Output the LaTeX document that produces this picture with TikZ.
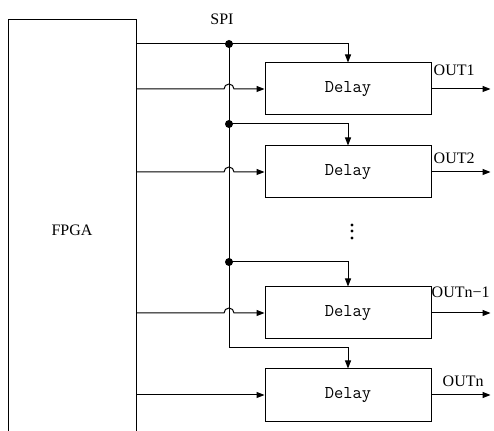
\documentclass[tikz,border=0pt]{standalone}
\usepackage{fontspec}
\setmainfont{Liberation Serif}
\usepackage{tikz}
\usetikzlibrary{arrows.meta,positioning}
\begin{document}
\begin{tikzpicture}[x=1pt, y=1pt, node distance=30pt, every node/.style={font=\fontsize{16}{18}\selectfont}, box/.style={draw, line width=1pt, minimum width=166pt, minimum height=52pt, inner sep=0pt, font=\fontsize{18}{20}\selectfont\ttfamily}, lbl/.style={inner sep=0pt, anchor=base west}, wire/.style={line width=1pt}, arr/.style={-{Triangle[length=8pt, width=6pt]}}]
\useasboundingbox (0,0) rectangle (494,430);
\node[draw, line width=1pt, minimum width=128pt, minimum height=420pt, inner sep=0pt] (fpga) at (72,200) {FPGA};
\node[box] (d1) at (348,341) {Delay};
\node[box, below=30pt of d1] (d2) {Delay};
\node[box, below=88pt of d2] (d3) {Delay};
\node[box, below=29pt of d3] (d4) {Delay};
\coordinate (spi) at (229,386); \coordinate (j2) at (229,306); \coordinate (j3) at (229,168); \coordinate (sb) at (229,82);
\node[anchor=base, inner sep=0pt] (spilbl) at (222,405) {SPI};
\foreach \y in {205,199,192} \fill (352,\y) circle[radius=1.6pt];
\draw[wire] (fpga.east |- spi) -- (spi) -- (sb);
\draw[wire, arr] (spi) -| (d1.north); \draw[wire, arr] (j2) -| (d2.north); \draw[wire, arr] (j3) -| (d3.north); \draw[wire, arr] (sb) -| (d4.north);
\foreach \j in {spi,j2,j3} \fill (\j) circle[radius=4pt];
\foreach \d in {d1,d2,d3} \draw[wire, arr] (fpga.east |- \d.west) -- ([xshift=-5pt]spi |- \d.west) arc[start angle=180, end angle=0, radius=5pt] -- (\d.west);
\draw[wire, arr] (fpga.east |- d4.west) -- (d4.west);
\foreach \d in {d1,d2,d3,d4} {\coordinate (\d out) at ([xshift=59pt]\d.east); \draw[wire, arr] (\d.east) -- (\d out);}
\node[lbl] (out1) at ([xshift=2pt, yshift=13pt]d1.east) {OUT1};
\node[lbl] (out2) at ([xshift=2pt, yshift=8pt]d2.east) {OUT2};
\node[lbl] (outn1) at ([xshift=0pt, yshift=15pt]d3.east) {OUTn−1};
\node[lbl] (outn) at ([xshift=11pt, yshift=8pt]d4.east) {OUTn};
\end{tikzpicture}
\end{document}
